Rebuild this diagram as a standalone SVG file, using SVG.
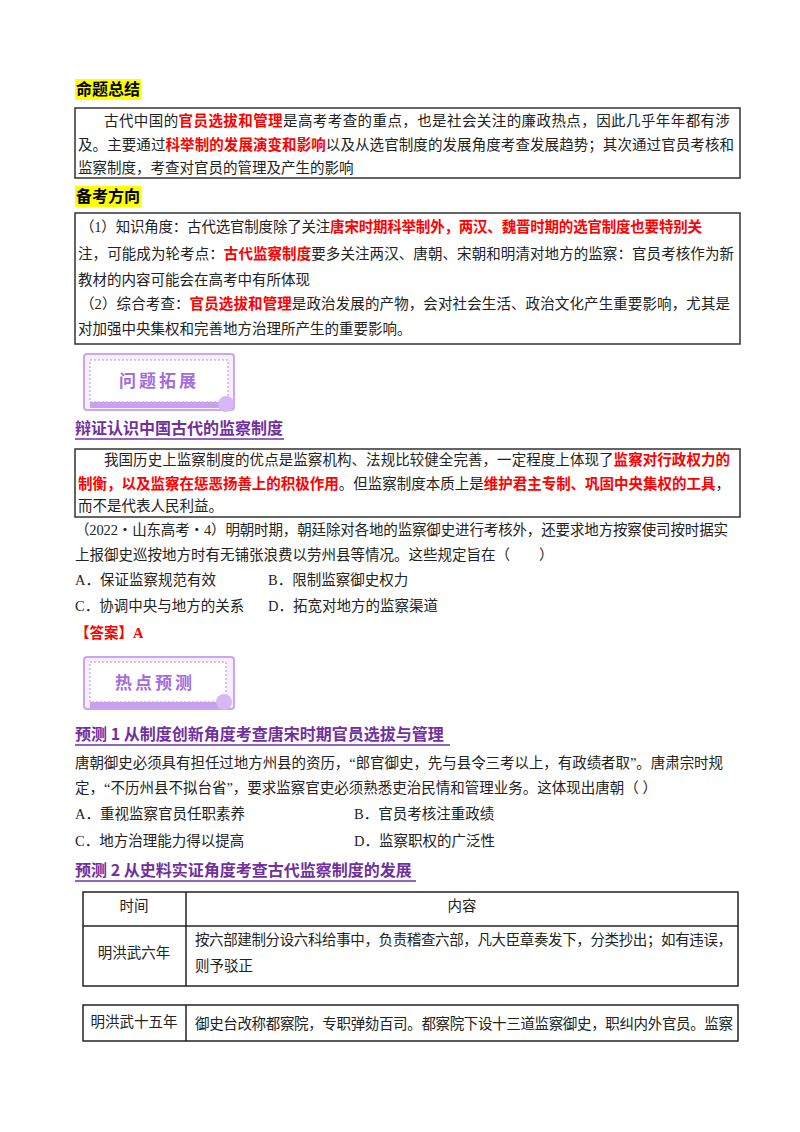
<svg xmlns="http://www.w3.org/2000/svg" width="800" height="1132" viewBox="0 0 800 1132">
<style>
text{font-family:"Liberation Serif","Noto Sans CJK SC",serif;font-size:14.5px;fill:#222}
.r{fill:#ff0000;font-weight:bold}
.h{font-family:"Noto Sans CJK SC",sans-serif;font-weight:bold;font-size:16px;fill:#000}
.p{font-family:"Noto Sans CJK SC",sans-serif;font-weight:bold;font-size:16px;fill:#7030a0}
.box{fill:none;stroke:#333;stroke-width:1.5}
.tb{fill:none;stroke:#222;stroke-width:1.5}
.bt{font-family:"Noto Sans CJK SC",sans-serif;font-weight:bold;font-size:17px;fill:#a36ce0;letter-spacing:3px}
</style>
<rect width="800" height="1132" fill="#fff"/>
<g id="sec1">
<rect x="75" y="79" width="66" height="21" fill="#ffff00"/>
<text class="h" x="76" y="95">命题总结</text>
<rect class="box" x="75" y="108" width="665" height="70"/>
<text x="104" y="126" textLength="626" lengthAdjust="spacing">古代中国的<tspan class="r">官员选拔和管理</tspan>是高考考查的重点，也是社会关注的廉政热点，因此几乎年年都有涉</text>
<text x="78" y="150" textLength="656" lengthAdjust="spacing">及。主要通过<tspan class="r">科举制的发展演变和影响</tspan>以及从选官制度的发展角度考查发展趋势；其次通过官员考核和</text>
<text x="78" y="173">监察制度，考查对官员的管理及产生的影响</text>
</g>
<g id="sec2">
<rect x="75" y="186" width="66" height="21" fill="#ffff00"/>
<text class="h" x="76" y="202">备考方向</text>
<rect class="box" x="75" y="213" width="665" height="131"/>
<text x="80" y="232" textLength="622" lengthAdjust="spacing">（1）知识角度：古代选官制度除了关注<tspan class="r">唐宋时期科举制外，两汉、魏晋时期的选官制度也要特别关</tspan></text>
<text x="78" y="259" textLength="656" lengthAdjust="spacing">注，可能成为轮考点：<tspan class="r">古代监察制度</tspan>要多关注两汉、唐朝、宋朝和明清对地方的监察：官员考核作为新</text>
<text x="78" y="285">教材的内容可能会在高考中有所体现</text>
<text x="80" y="309" textLength="650" lengthAdjust="spacing">（2）综合考查：<tspan class="r">官员选拔和管理</tspan>是政治发展的产物，会对社会生活、政治文化产生重要影响，尤其是</text>
<text x="78" y="334">对加强中央集权和完善地方治理所产生的重要影响。</text>
</g>
<g id="badge1">
<rect x="84" y="354" width="150" height="56" rx="3" fill="#f6efff" stroke="#c9a6f2" stroke-width="2"/>
<rect x="90" y="360" width="138" height="42" fill="#fff" stroke="#b58be8" stroke-dasharray="2,2"/>
<rect x="90" y="402" width="140" height="6" fill="#c9a0f0"/>
<circle cx="226" cy="404" r="8" fill="#d7b8f5"/>
<text class="bt" x="159" y="387" text-anchor="middle">问题拓展</text>
</g>
<g id="sec3">
<text class="p" x="75" y="434">辩证认识中国古代的监察制度</text>
<line x1="75" y1="439" x2="284" y2="439" stroke="#7030a0" stroke-width="1.5"/>
<rect class="box" x="75" y="449" width="665" height="68"/>
<text x="104" y="465" textLength="626" lengthAdjust="spacing">我国历史上监察制度的优点是监察机构、法规比较健全完善，一定程度上体现了<tspan class="r">监察对行政权力的</tspan></text>
<text x="78" y="489" textLength="652" lengthAdjust="spacing"><tspan class="r">制衡，以及监察在惩恶扬善上的积极作用</tspan>。但监察制度本质上是<tspan class="r">维护君主专制、巩固中央集权的工具</tspan>，</text>
<text x="78" y="511">而不是代表人民利益。</text>
</g>
<g id="q1">
<text x="75" y="535" textLength="653" lengthAdjust="spacing">（2022・山东高考・4）明朝时期，朝廷除对各地的监察御史进行考核外，还要求地方按察使司按时据实</text>
<text x="75" y="560">上报御史巡按地方时有无铺张浪费以劳州县等情况。这些规定旨在（　　）</text>
<text x="75" y="585">A．保证监察规范有效</text>
<text x="268" y="585">B．限制监察御史权力</text>
<text x="75" y="611">C．协调中央与地方的关系</text>
<text x="268" y="611">D．拓宽对地方的监察渠道</text>
<text x="75" y="638" class="r">【答案】A</text>
</g>
<g id="badge2">
<rect x="84" y="657" width="150" height="52" rx="3" fill="#f6efff" stroke="#c9a6f2" stroke-width="2"/>
<rect x="90" y="662" width="136" height="40" fill="#fff" stroke="#b58be8" stroke-dasharray="2,2"/>
<rect x="90" y="702" width="140" height="6" fill="#c9a0f0"/>
<circle cx="224" cy="702" r="8" fill="#d7b8f5"/>
<text class="bt" x="155" y="689" text-anchor="middle">热点预测</text>
</g>
<g id="pred1">
<text class="p" x="75" y="740">预测 1  从制度创新角度考查唐宋时期官员选拔与管理</text>
<line x1="75" y1="745" x2="450" y2="745" stroke="#7030a0" stroke-width="1.5"/>
<text x="75" y="768" textLength="648" lengthAdjust="spacing">唐朝御史必须具有担任过地方州县的资历，“郎官御史，先与县令三考以上，有政绩者取”。唐肃宗时规</text>
<text x="75" y="793">定，“不历州县不拟台省”，要求监察官吏必须熟悉吏治民情和管理业务。这体现出唐朝（  ）</text>
<text x="75" y="819">A．重视监察官员任职素养</text>
<text x="354" y="819">B．官员考核注重政绩</text>
<text x="75" y="846">C．地方治理能力得以提高</text>
<text x="354" y="846">D．监察职权的广泛性</text>
</g>
<g id="pred2">
<text class="p" x="75" y="876">预测 2  从史料实证角度考查古代监察制度的发展</text>
<line x1="75" y1="881" x2="416" y2="881" stroke="#7030a0" stroke-width="1.5"/>
</g>
<g id="table1">
<rect class="tb" x="83" y="892" width="655" height="94"/>
<line class="tb" x1="83" y1="926" x2="738" y2="926"/>
<line class="tb" x1="186" y1="892" x2="186" y2="986"/>
<text x="134" y="911" text-anchor="middle">时间</text>
<text x="462" y="911" text-anchor="middle">内容</text>
<text x="134" y="958" text-anchor="middle">明洪武六年</text>
<text x="195" y="945" textLength="537" lengthAdjust="spacing">按六部建制分设六科给事中，负责稽查六部，凡大臣章奏发下，分类抄出；如有违误，</text>
<text x="195" y="971">则予驳正</text>
</g>
<g id="table2">
<rect class="tb" x="83" y="1005" width="655" height="36"/>
<line class="tb" x1="186" y1="1005" x2="186" y2="1041"/>
<text x="134" y="1027" text-anchor="middle">明洪武十五年</text>
<text x="195" y="1029" textLength="538" lengthAdjust="spacing">御史台改称都察院，专职弹劾百司。都察院下设十三道监察御史，职纠内外官员。监察</text>
</g>
<g id="connectors"/>
</svg>
